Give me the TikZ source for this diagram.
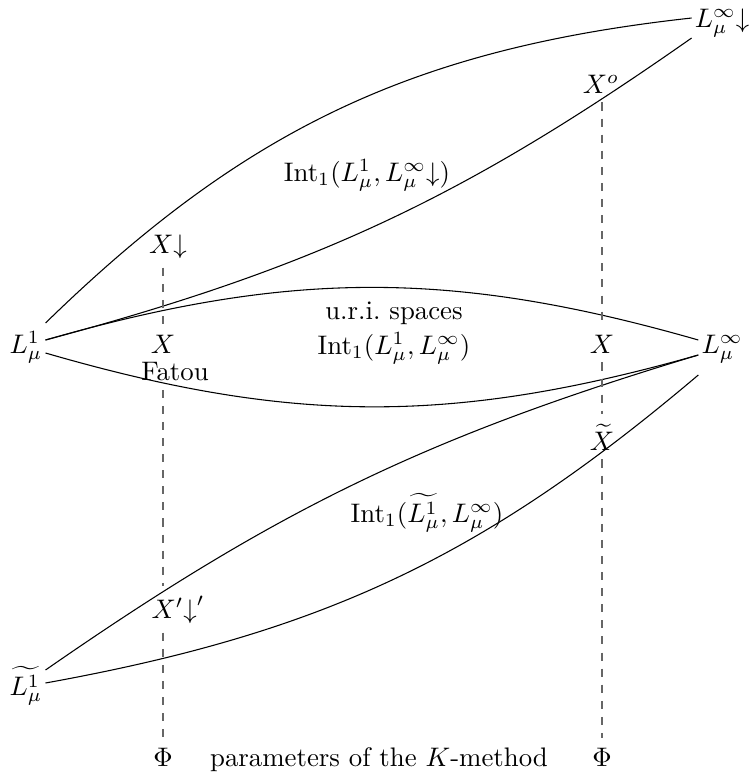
\documentclass[tikz,border=0pt]{standalone}
\usetikzlibrary{calc}
\begin{document}
\begin{tikzpicture}[x=0.373pt,y=-0.373pt,
  lbl/.style={anchor=base},
  endn/.style={anchor=base,inner sep=1pt},
  guide/.style={dashed,black!60}]
\useasboundingbox (0,0) rectangle (751,776);
% end nodes
\node[endn] (L1) at (26,353) {$L^1_\mu$};
\node[endn] (tL1) at (26,695) {$\widetilde{L^1_\mu}$};
\node[endn] (Linf) at (722,353) {$L^\infty_\mu$};
\node[endn] (Linfd) at (722,27) {$L^\infty_\mu{\downarrow}$};
% labels
\node[lbl] (Xd) at (168,253) {$X{\downarrow}$};
\node[lbl] (Xl) at (163,353) {$X$};
\node[lbl] (Fatou) at (175,380) {Fatou};
\node[lbl] (Xdp) at (178,618) {$X'{\downarrow}'$};
\node[lbl] (Phil) at (163,766) {$\Phi$};
\node[lbl] (par) at (379,766) {parameters of the $K$-method};
\node[lbl] (Phir) at (602,766) {$\Phi$};
\node[lbl] (Xo) at (601,93) {$X^o$};
\node[lbl] (Xr) at (602,353) {$X$};
\node[lbl] (Xt) at (602,450) {$\widetilde{X}$};
\node[align=center,inner sep=1pt] (int0) at (394,333) {u.r.i.\ spaces\\[1pt]$\mathrm{Int}_1(L^1_\mu,L^\infty_\mu)$};
\node[lbl] (intU) at (367,181) {$\mathrm{Int}_1(L^1_\mu,L^\infty_\mu{\downarrow})$};
\node[lbl] (intL) at (427,522) {$\mathrm{Int}_1(\widetilde{L^1_\mu},L^\infty_\mu)$};
% curves
\draw ($(L1.base east)+(0,-30)$) to[bend left=19] ($(Linfd.base west)+(0,-9)$);
\draw ($(L1.base east)+(0,-13)$) to[bend right=10] ($(Linfd.base west)+(0,11)$);
\draw ($(L1.base east)+(0,-13)$) to[bend left=16] ($(Linf.base west)+(0,-13)$);
\draw ($(L1.base east)+(0,0)$) to[bend right=16] ($(Linf.base west)+(0,2)$);
\draw ($(tL1.base east)+(0,-25)$) to[bend left=9] ($(Linf.base west)+(0,2)$);
\draw ($(tL1.base east)+(0,-12)$) to[bend right=15] ($(Linf.base west)+(0,22)$);
% dashed guides
\draw[guide] (Xd.south -| Xl) -- (Xl.north);
\draw[guide] (Fatou.south -| Xl) -- (Xdp.north -| Xl);
\draw[guide] (Xdp.south -| Xl) -- (Phil.north);
\draw[guide] (Xo.south -| Xr) -- (Xr.north);
\draw[guide] (Xr.south) -- (Xt.north);
\draw[guide] (Xt.south) -- (Phir.north);
\end{tikzpicture}
\end{document}
